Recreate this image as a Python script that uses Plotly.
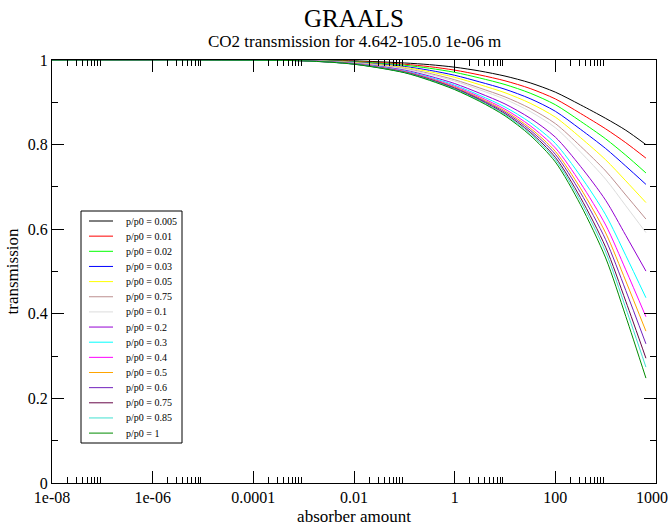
import plotly.graph_objects as go

# absorber amounts (x) at which transmission was read
absorber = [1e-8, 1e-5, 1e-3, 1e-2, 1e-1, 0.316, 1, 3.16, 10, 31.6, 100, 316, 1000, 2510, 6310]

# transmission series, one per p/p0
t_0005 = [1, 1, 0.9995, 0.998, 0.993, 0.989, 0.983, 0.974, 0.962, 0.946, 0.924, 0.894, 0.862, 0.834, 0.800]
t_001 = [1, 1, 0.9993, 0.9970, 0.9900, 0.9842, 0.9761, 0.9646, 0.9508, 0.9326, 0.9080, 0.8737, 0.8372, 0.8045, 0.768]
t_002 = [1, 1, 0.9992, 0.9962, 0.9877, 0.9805, 0.9708, 0.9574, 0.9420, 0.9216, 0.8943, 0.8553, 0.8135, 0.7750, 0.733]
t_003 = [1, 1, 0.9990, 0.9951, 0.9847, 0.9757, 0.9639, 0.9481, 0.9309, 0.9086, 0.8788, 0.8362, 0.7907, 0.7491, 0.706]
t_005 = [1, 1, 0.9988, 0.9944, 0.9826, 0.9723, 0.9591, 0.9416, 0.9226, 0.8978, 0.8649, 0.8166, 0.7640, 0.7143, 0.663]
t_0075 = [1, 1, 0.9987, 0.9935, 0.9801, 0.9683, 0.9533, 0.9337, 0.9128, 0.8856, 0.8497, 0.7963, 0.7376, 0.6809, 0.624]
t_01 = [1, 1, 0.9986, 0.9930, 0.9787, 0.9661, 0.9501, 0.9294, 0.9072, 0.8783, 0.8400, 0.7824, 0.7181, 0.6554, 0.592]
t_02 = [1, 1, 0.9984, 0.9922, 0.9762, 0.9620, 0.9443, 0.9214, 0.8961, 0.8625, 0.8177, 0.7486, 0.6683, 0.5854, 0.501]
t_03 = [1, 1, 0.9983, 0.9916, 0.9746, 0.9594, 0.9406, 0.9164, 0.8889, 0.8523, 0.8029, 0.7257, 0.6340, 0.5379, 0.438]
t_04 = [1, 1, 0.9982, 0.9912, 0.9734, 0.9575, 0.9379, 0.9128, 0.8837, 0.8448, 0.7922, 0.7094, 0.6099, 0.5040, 0.393]
t_05 = [1, 1, 0.9982, 0.9909, 0.9725, 0.9561, 0.9358, 0.9099, 0.8797, 0.8391, 0.7839, 0.6969, 0.5911, 0.4776, 0.359]
t_06 = [1, 1, 0.9981, 0.9906, 0.9718, 0.9550, 0.9342, 0.9078, 0.8765, 0.8344, 0.7771, 0.6866, 0.5752, 0.4552, 0.329]
t_075 = [1, 1, 0.9981, 0.9904, 0.9711, 0.9538, 0.9326, 0.9056, 0.8732, 0.8296, 0.7699, 0.6748, 0.5574, 0.4296, 0.295]
t_085 = [1, 1, 0.9980, 0.9902, 0.9706, 0.9529, 0.9313, 0.9038, 0.8706, 0.8260, 0.7648, 0.6670, 0.5459, 0.4134, 0.274]
t_1 = [1, 1, 0.998, 0.990, 0.970, 0.952, 0.930, 0.902, 0.868, 0.822, 0.759, 0.658, 0.532, 0.394, 0.248]

series = [t_0005, t_001, t_002, t_003, t_005, t_0075, t_01, t_02, t_03, t_04, t_05, t_06, t_075, t_085, t_1]
labels = ["p/p0 = 0.005", "p/p0 = 0.01", "p/p0 = 0.02", "p/p0 = 0.03", "p/p0 = 0.05",
          "p/p0 = 0.75", "p/p0 = 0.1", "p/p0 = 0.2", "p/p0 = 0.3", "p/p0 = 0.4",
          "p/p0 = 0.5", "p/p0 = 0.6", "p/p0 = 0.75", "p/p0 = 0.85", "p/p0 = 1"]
colors = ["#000000", "#ff0000", "#00ff00", "#0000ff", "#ffff00", "#bc8f8f", "#dcdcdc",
          "#9400d3", "#00ffff", "#ff00ff", "#ffa500", "#7221bc", "#670748", "#40e0d0", "#008b00"]

x_tickvals = [1e-8, 1e-6, 1e-4, 1e-2, 1, 100, 10000]
x_ticktext = ["1e-08", "1e-06", "0.0001", "0.01", "1", "100", "10000"]
x_minor = [k * v for v in x_tickvals[:-1] for k in range(2, 10)]

FONT = "Liberation Serif, Times New Roman, serif"

fig = go.Figure()
for ys, lab, col in zip(series, labels, colors):
    fig.add_trace(go.Scatter(x=absorber, y=ys, mode="lines", name=lab,
                             line=dict(color=col, width=1, shape="spline", smoothing=0.8),
                             showlegend=False))

# manual legend (compact like the original)
W, H = 668, 527
L, R, T, B = 52, 12, 60, 44
pw, ph = W - L - R, H - T - B
def px(xp):
    return (xp - L) / pw
def py(yp):
    return (H - B - yp) / ph

shapes = [dict(type="rect", xref="paper", yref="paper", x0=px(81), x1=px(182), y0=py(443), y1=py(211),
               line=dict(color="black", width=1), fillcolor="white", layer="above")]
annotations = []
for i, (lab, col) in enumerate(zip(labels, colors)):
    yy = 221 + i * 15.15
    shapes.append(dict(type="line", xref="paper", yref="paper", x0=px(89), x1=px(113), y0=py(yy), y1=py(yy),
                       line=dict(color=col, width=1), layer="above"))
    annotations.append(dict(text=lab, xref="paper", yref="paper", x=px(124), y=py(yy), xanchor="left",
                            yanchor="middle", showarrow=False, font=dict(family=FONT, size=10, color="black")))

annotations.append(dict(text="CO2 transmission for 4.642-105.0 1e-06 m", xref="paper", yref="paper",
                        x=0.5, y=py(41), xanchor="center", yanchor="middle", showarrow=False,
                        font=dict(family=FONT, size=17, color="black")))

fig.update_layout(
    width=W, height=H,
    margin=dict(l=L, r=R, t=T, b=B),
    paper_bgcolor="white", plot_bgcolor="white",
    font=dict(family=FONT, size=16, color="black"),
    title=dict(text="GRAALS", x=354 / W, xanchor="center", y=1 - 18 / H, yanchor="middle",
               yref="container", font=dict(family=FONT, size=25, color="black")),
    shapes=shapes, annotations=annotations,
    showlegend=False,
)
fig.update_xaxes(type="log", range=[-8, 4], tickmode="array", tickvals=x_tickvals, ticktext=x_ticktext,
                 ticks="inside", ticklen=12, tickwidth=1, tickcolor="black", ticklabeloverflow="allow",
                 minor=dict(tickvals=x_minor, ticks="inside", ticklen=6, tickwidth=1, tickcolor="black"),
                 showline=True, linecolor="black", linewidth=1, mirror="allticks", showgrid=False,
                 zeroline=False, automargin=False, tickfont=dict(family=FONT, size=16),
                 title=dict(text="absorber amount", font=dict(family=FONT, size=17), standoff=4))
fig.update_yaxes(range=[0, 1], tickmode="array", tickvals=[0, 0.2, 0.4, 0.6, 0.8, 1],
                 ticktext=["0", "0.2", "0.4", "0.6", "0.8", "1"],
                 ticks="inside", ticklen=12, tickwidth=1, tickcolor="black", ticklabeloverflow="allow",
                 minor=dict(dtick=0.1, ticks="inside", ticklen=6, tickwidth=1, tickcolor="black"),
                 showline=True, linecolor="black", linewidth=1, mirror="allticks", showgrid=False,
                 zeroline=False, automargin=False, tickfont=dict(family=FONT, size=16),
                 title=dict(text="transmission", font=dict(family=FONT, size=17), standoff=4))

fig.write_html("out.html")
